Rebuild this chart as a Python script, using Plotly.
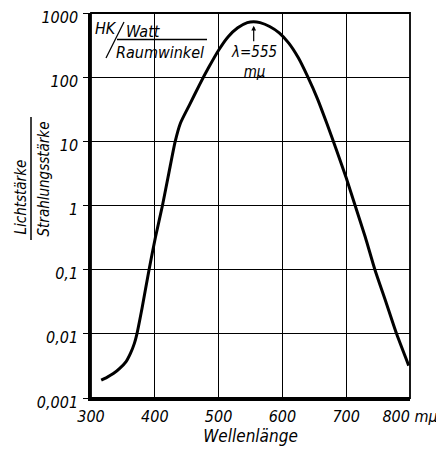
import plotly.graph_objects as go
import math

# Data
wavelength = [316, 325, 335, 345, 355, 362, 368, 372, 380, 391, 401, 412, 422, 432, 440,
              455, 470, 485, 500, 515, 530, 545, 555, 565, 580, 595, 610, 625, 640, 655,
              670, 685, 700, 715, 730, 745, 762, 779, 798]
ratio = [0.0019, 0.0021, 0.0024, 0.0029, 0.0037, 0.005, 0.0071, 0.01, 0.025, 0.1, 0.32,
         1.0, 3.2, 10, 19, 38, 76, 145, 263, 427, 589, 708, 733, 708, 617, 490, 339, 200,
         100, 46, 18.6, 7.2, 2.7, 0.93, 0.32, 0.1, 0.032, 0.01, 0.0032]

x_tickvals = [300, 400, 500, 600, 700, 800]
x_ticktext = ["300", "400", "500", "600", "700", "800 mμ"]
y_tickvals = [0.001, 0.01, 0.1, 1, 10, 100, 1000]
y_ticktext = ["0,001", "0,01", "0,1", "1", "10", "100", "1000"]

FONT = "Liberation Sans Narrow, DejaVu Sans Condensed, Arial Narrow, sans-serif"
peak_wl = 555
peak_val = 733

fig = go.Figure()
fig.add_trace(go.Scatter(
    x=wavelength, y=ratio, mode="lines",
    line=dict(color="black", width=3, shape="spline", smoothing=0.6),
    hoverinfo="skip", showlegend=False,
))

# page body has an 8px margin; plot area in page pixels: x 91..410, y 13..398
OFF = 8
PL, PR, PT, PB = 91, 410, 13, 398
W, H = 436, 442
L, T = PL - OFF, PT - OFF
R = W - (PR - OFF)
B = H - (PB - OFF)
pw, ph = PR - PL, PB - PT

def px(xp):
    return (xp - PL) / pw

def py(yp):
    return (PB - yp) / ph

fig.update_layout(
    width=W, height=H,
    margin=dict(l=L, r=R, t=T, b=B, autoexpand=False),
    paper_bgcolor="white", plot_bgcolor="white",
    font=dict(family=FONT, color="black"),
    xaxis=dict(
        range=[300, 800], tickvals=x_tickvals, ticktext=x_ticktext,
        showgrid=True, gridcolor="black", gridwidth=1,
        showline=True, linecolor="black", linewidth=2.5,
        ticks="", ticklabelstandoff=2, automargin=False, ticklabeloverflow="allow",
        tickfont=dict(size=16, style="italic", family=FONT, color="black"),
        zeroline=False,
        title=dict(text="Wellenlänge", font=dict(size=17, style="italic", family=FONT), standoff=6),
    ),
    yaxis=dict(
        type="log", range=[-3, 3], tickvals=y_tickvals, ticktext=y_ticktext,
        showgrid=True, gridcolor="black", gridwidth=1,
        showline=True, linecolor="black", linewidth=2.5, automargin=False,
        ticks="outside", ticklen=5, tickwidth=1, tickcolor="black", ticklabelstandoff=2,
        ticklabeloverflow="allow", ticklabelshift=4,
        tickfont=dict(size=16, style="italic", family=FONT, color="black"),
        zeroline=False,
    ),
)

# top/right frame
fig.add_shape(type="rect", xref="paper", yref="paper", x0=0, x1=1, y0=0, y1=1,
              line=dict(color="black", width=1.8), layer="above")

# y-axis title as a rotated fraction
fig.add_annotation(text="Lichtstärke", xref="paper", yref="paper",
                   x=px(20), y=py(237), textangle=-90, showarrow=False,
                   xanchor="center", yanchor="bottom",
                   font=dict(size=15, style="italic", family=FONT))
fig.add_annotation(text="Strahlungsstärke", xref="paper", yref="paper",
                   x=px(43), y=py(239), textangle=-90, showarrow=False,
                   xanchor="center", yanchor="bottom",
                   font=dict(size=15, style="italic", family=FONT))
fig.add_shape(type="line", xref="paper", yref="paper",
              x0=px(31), x1=px(31), y0=py(240), y1=py(117),
              line=dict(color="black", width=1.5))

# unit label inside
fig.add_annotation(text="HK", xref="paper", yref="paper", x=px(106), y=py(28),
                   showarrow=False, xanchor="center", yanchor="middle",
                   font=dict(size=16, style="italic", family=FONT))
fig.add_annotation(text="Watt", xref="paper", yref="paper", x=px(143), y=py(31),
                   showarrow=False, xanchor="center", yanchor="middle",
                   font=dict(size=16, style="italic", family=FONT))
fig.add_annotation(text="Raumwinkel", xref="paper", yref="paper", x=px(160), y=py(52),
                   showarrow=False, xanchor="center", yanchor="middle",
                   font=dict(size=16, style="italic", family=FONT))
fig.add_shape(type="line", xref="paper", yref="paper",
              x0=px(117), x1=px(207), y0=py(39.5), y1=py(39.5),
              line=dict(color="black", width=1.3))
fig.add_shape(type="line", xref="paper", yref="paper",
              x0=px(106), x1=px(124), y0=py(58), y1=py(22),
              line=dict(color="black", width=1.3))

# peak annotation
fig.add_annotation(text="λ=555<br>mμ", x=peak_wl, y=math.log10(peak_val),
                   xref="x", yref="y", showarrow=True, arrowhead=2, arrowsize=0.8,
                   arrowwidth=1.2, arrowcolor="black", ax=0, ay=40, standoff=4,
                   font=dict(size=15, style="italic", family=FONT), align="center")

fig.write_html("out.html")
